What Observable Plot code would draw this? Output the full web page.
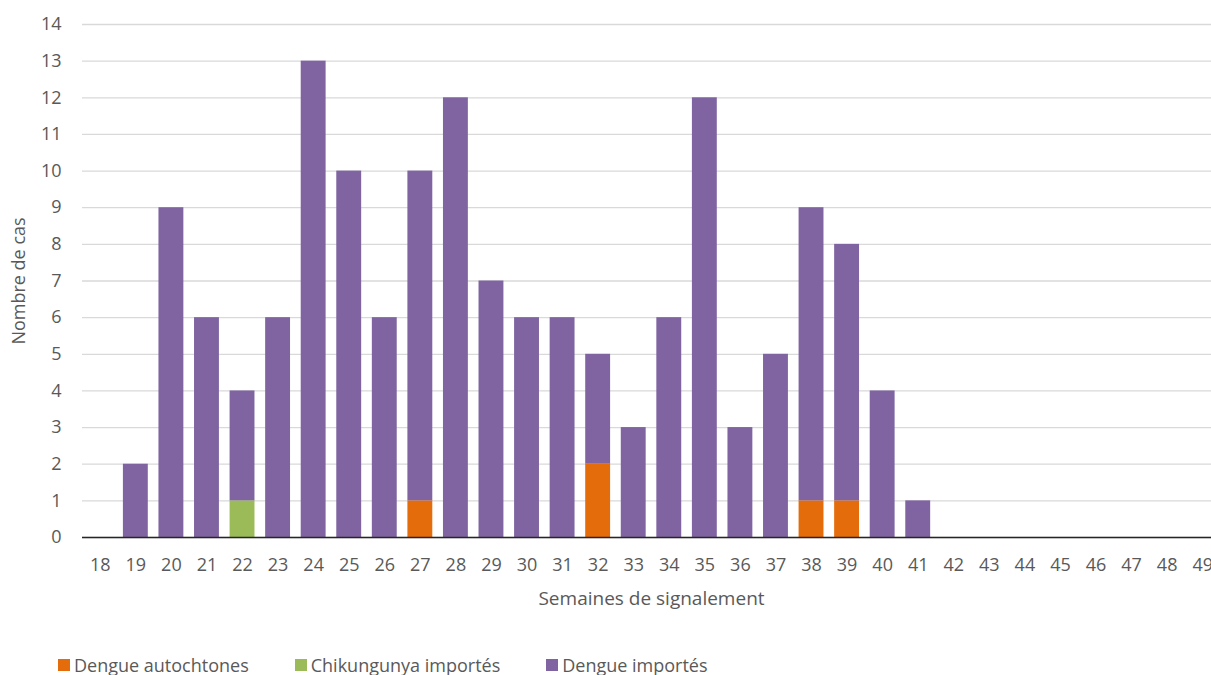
<!DOCTYPE html>
<html>
<head>
<meta charset="utf-8">
<script src="https://cdn.jsdelivr.net/npm/d3@7"></script>
<script src="https://cdn.jsdelivr.net/npm/@observablehq/plot@0.6"></script>
<style>
  html, body { margin: 0; padding: 0; background: #fff; overflow: hidden; width: 1211px; height: 675px; }
  #chart { position: absolute; left: 0; top: 0; width: 1220px; }
  #chart svg { max-width: none !important; }
  #legend { position: absolute; left: 58px; top: 652px; font-family: "Open Sans", "Noto Sans", sans-serif; font-size: 18px; line-height: 26px; color: #595959; display: flex; white-space: nowrap; }
  #legend .item { display: flex; align-items: center; margin-right: 46px; }
  #legend .sw { width: 12px; height: 12px; margin-right: 4px; display: inline-block; }
</style>
</head>
<body>
<div id="chart"></div>
<div id="legend"></div>
<script>
const weeks = [18,19,20,21,22,23,24,25,26,27,28,29,30,31,32,33,34,35,36,37,38,39,40,41,42,43,44,45,46,47,48,49];
const dengueAutochtones = [0,0,0,0,0,0,0,0,0,1,0,0,0,0,2,0,0,0,0,0,1,1,0,0,0,0,0,0,0,0,0,0];
const chikungunyaImportes = [0,0,0,0,1,0,0,0,0,0,0,0,0,0,0,0,0,0,0,0,0,0,0,0,0,0,0,0,0,0,0,0];
const dengueImportes = [0,2,9,6,3,6,13,10,6,9,12,7,6,6,3,3,6,12,3,5,8,7,4,1,0,0,0,0,0,0,0,0];
const seriesNames = ["Dengue autochtones", "Chikungunya importés", "Dengue importés"];
const seriesColors = ["#E46C0A", "#9BBB59", "#8064A2"];
const yTicks = d3.range(0, 15);

const seriesValues = [dengueAutochtones, chikungunyaImportes, dengueImportes];
const rows = [];
seriesNames.forEach((s, si) => {
  weeks.forEach((w, i) => rows.push({week: String(w), serie: s, value: seriesValues[si][i]}));
});

const plot = Plot.plot({
  width: 1220,
  height: 640,
  marginTop: 24,
  marginBottom: 103,
  marginLeft: 82,
  marginRight: 0,
  style: {fontFamily: '"Open Sans", "Noto Sans", sans-serif', fontSize: "18px", color: "#595959", background: "transparent", maxWidth: "none"},
  x: {domain: weeks.map(String), paddingInner: 0.3, paddingOuter: 0.15, round: false, label: null},
  y: {domain: [0, 14], label: null},
  color: {domain: seriesNames, range: seriesColors},
  marks: [
    Plot.gridY(yTicks, {stroke: "#d9d9d9", strokeOpacity: 1, strokeWidth: 1.3}),
    Plot.barY(rows, Plot.stackY({x: "week", y: "value", fill: "serie", order: seriesNames})),
    Plot.ruleX([0], {frameAnchor: "left", stroke: "#262626", strokeWidth: 1.5}),
    Plot.ruleY([0], {stroke: "#262626", strokeWidth: 1.5}),
    Plot.axisY(yTicks, {tickSize: 0, tickPadding: 21, fontSize: 18, fill: "#595959", label: null}),
    Plot.axisX({tickSize: 0, tickPadding: 21, fontSize: 18, fill: "#595959", label: null}),
    Plot.text(["Semaines de signalement"], {frameAnchor: "bottom", dy: 67, fontSize: 19, fill: "#595959"}),
    Plot.text(["Nombre de cas"], {frameAnchor: "left", textAnchor: "middle", dx: -63, rotate: -90, fontSize: 18, fill: "#595959"})
  ]
});
plot.style.maxWidth = "none";
document.getElementById("chart").appendChild(plot);

const legend = document.getElementById("legend");
seriesNames.forEach((s, i) => {
  const it = document.createElement("span");
  it.className = "item";
  const sw = document.createElement("span");
  sw.className = "sw";
  sw.style.background = seriesColors[i];
  it.appendChild(sw);
  it.appendChild(document.createTextNode(s));
  legend.appendChild(it);
});
</script>
</body>
</html>
